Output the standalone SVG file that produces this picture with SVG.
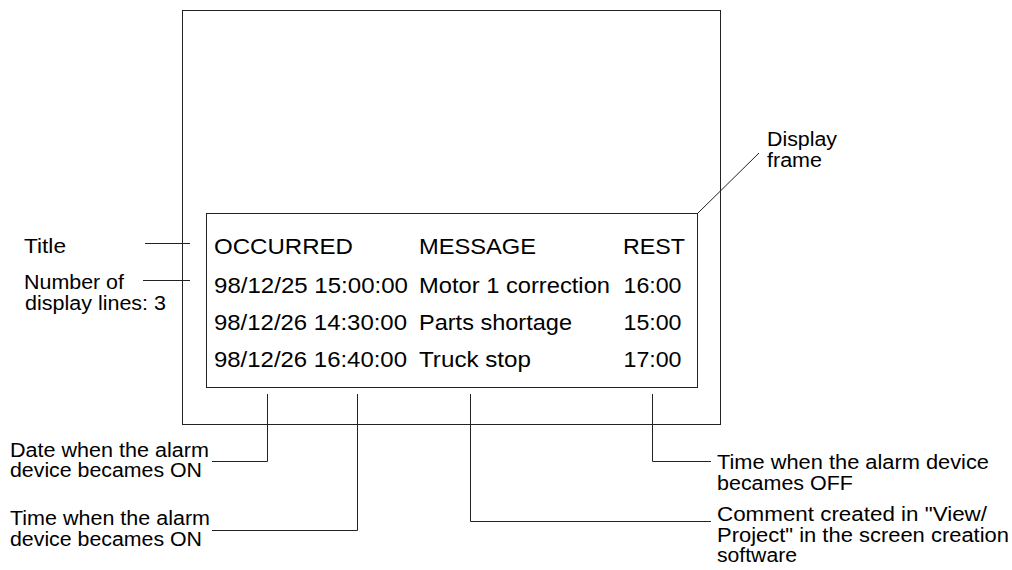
<svg xmlns="http://www.w3.org/2000/svg" width="1012" height="570" viewBox="0 0 1012 570">
<style>
.ln{fill:none;stroke:#222;stroke-width:1}
.t{font-family:"Liberation Sans",Arial,sans-serif;fill:#000}
.tb{font-size:21.5px}
.lb{font-size:19.5px}
</style>
<rect x="0" y="0" width="1012" height="570" fill="#fff"/>
<g id="outer-frame">
<rect class="ln" x="182.5" y="10.5" width="538" height="414"/>
</g>
<g id="display-frame">
<rect class="ln" x="206.5" y="213.5" width="491" height="174"/>
<g class="t tb">
<text x="214" y="254" textLength="139" lengthAdjust="spacingAndGlyphs">OCCURRED</text>
<text x="419" y="254" textLength="117" lengthAdjust="spacingAndGlyphs">MESSAGE</text>
<text x="623" y="254" textLength="62" lengthAdjust="spacingAndGlyphs">REST</text>
<text x="214" y="292.5" textLength="194" lengthAdjust="spacingAndGlyphs">98/12/25 15:00:00</text>
<text x="419" y="292.5" textLength="191" lengthAdjust="spacingAndGlyphs">Motor 1 correction</text>
<text x="623.5" y="292.5" textLength="58" lengthAdjust="spacingAndGlyphs">16:00</text>
<text x="214" y="329.5" textLength="193" lengthAdjust="spacingAndGlyphs">98/12/26 14:30:00</text>
<text x="419" y="329.5" textLength="153" lengthAdjust="spacingAndGlyphs">Parts shortage</text>
<text x="623.5" y="329.5" textLength="58" lengthAdjust="spacingAndGlyphs">15:00</text>
<text x="214" y="366.5" textLength="193" lengthAdjust="spacingAndGlyphs">98/12/26 16:40:00</text>
<text x="419" y="366.5" textLength="112" lengthAdjust="spacingAndGlyphs">Truck stop</text>
<text x="623.5" y="366.5" textLength="58" lengthAdjust="spacingAndGlyphs">17:00</text>
</g>
</g>
<g id="connectors">
<line class="ln" x1="697.5" y1="213.5" x2="759" y2="153"/>
<polyline class="ln" points="145,243.5 190,243.5"/>
<polyline class="ln" points="143,280.5 190,280.5"/>
<polyline class="ln" points="267.5,394 267.5,461.5 212,461.5"/>
<polyline class="ln" points="357.5,394 357.5,530.5 212,530.5"/>
<polyline class="ln" points="470.5,394 470.5,521.5 711,521.5"/>
<polyline class="ln" points="652.5,394 652.5,461.5 711,461.5"/>
</g>
<g id="label-display-frame" class="t lb">
<text x="767" y="145.5" textLength="70" lengthAdjust="spacingAndGlyphs">Display</text>
<text x="767" y="166.5" textLength="55" lengthAdjust="spacingAndGlyphs">frame</text>
</g>
<g id="label-title" class="t lb">
<text x="24" y="252.7" textLength="42" lengthAdjust="spacingAndGlyphs">Title</text>
</g>
<g id="label-lines" class="t lb">
<text x="24" y="289.3" textLength="100" lengthAdjust="spacingAndGlyphs">Number of</text>
<text x="25" y="310" textLength="141" lengthAdjust="spacingAndGlyphs">display lines: 3</text>
</g>
<g id="label-date-on" class="t lb">
<text x="10" y="456.7" textLength="199" lengthAdjust="spacingAndGlyphs">Date when the alarm</text>
<text x="10" y="477.3" textLength="192" lengthAdjust="spacingAndGlyphs">device becames ON</text>
</g>
<g id="label-time-on" class="t lb">
<text x="10" y="525.3" textLength="200" lengthAdjust="spacingAndGlyphs">Time when the alarm</text>
<text x="10" y="545.8" textLength="192" lengthAdjust="spacingAndGlyphs">device becames ON</text>
</g>
<g id="label-time-off" class="t lb">
<text x="717" y="469.3" textLength="272" lengthAdjust="spacingAndGlyphs">Time when the alarm device</text>
<text x="717" y="489.5" textLength="136" lengthAdjust="spacingAndGlyphs">becames OFF</text>
</g>
<g id="label-comment" class="t lb">
<text x="717" y="521" textLength="270" lengthAdjust="spacingAndGlyphs">Comment created in "View/</text>
<text x="717" y="541.5" textLength="292" lengthAdjust="spacingAndGlyphs">Project" in the screen creation</text>
<text x="717" y="561.7" textLength="80" lengthAdjust="spacingAndGlyphs">software</text>
</g>
</svg>
